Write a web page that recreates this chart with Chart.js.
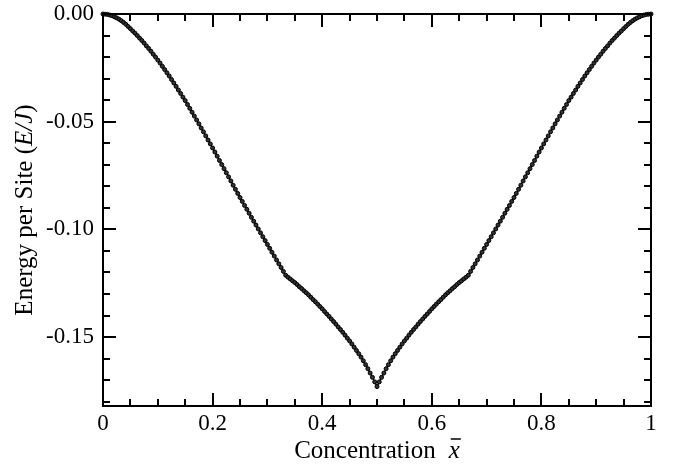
<!DOCTYPE html>
<html>
<head>
<meta charset="utf-8">
<script src="https://cdn.jsdelivr.net/npm/chart.js@4.4.0/dist/chart.umd.min.js"></script>
<style>
  html, body { margin: 0; padding: 0; background: #fff; }
  #wrap { width: 673px; height: 466px; }
</style>
</head>
<body>
<div id="wrap"><canvas id="chart-canvas" width="673" height="466"></canvas></div>
<script>
//////////////////////////////////////////////////
/////   Ground-state energy vs concentration  ////
//////////////////////////////////////////////////

// concentration grid: 0 .. 1 in steps of 1/240
var nSteps = 240;

// energy per site (E/J), one value per grid point
var energy = [
    0.0000, -0.0001, -0.0002, -0.0005, -0.0008, -0.0013, -0.0018, -0.0024, -0.0031, -0.0039,
    -0.0048, -0.0058, -0.0068, -0.0079, -0.0089, -0.0100, -0.0112, -0.0123, -0.0135, -0.0148,
    -0.0160, -0.0173, -0.0187, -0.0200, -0.0214, -0.0228, -0.0243, -0.0258, -0.0273, -0.0288,
    -0.0304, -0.0320, -0.0336, -0.0353, -0.0369, -0.0386, -0.0402, -0.0420, -0.0438, -0.0456,
    -0.0474, -0.0492, -0.0510, -0.0529, -0.0547, -0.0566, -0.0585, -0.0603, -0.0622, -0.0641,
    -0.0660, -0.0680, -0.0699, -0.0718, -0.0737, -0.0756, -0.0775, -0.0795, -0.0814, -0.0833,
    -0.0852, -0.0870, -0.0889, -0.0907, -0.0925, -0.0944, -0.0962, -0.0980, -0.0998, -0.1016,
    -0.1034, -0.1052, -0.1070, -0.1088, -0.1106, -0.1124, -0.1142, -0.1160, -0.1177, -0.1195,
    -0.1213, -0.1222, -0.1230, -0.1239, -0.1247, -0.1256, -0.1266, -0.1275, -0.1285, -0.1294,
    -0.1304, -0.1315, -0.1326, -0.1336, -0.1347, -0.1358, -0.1369, -0.1381, -0.1393, -0.1404,
    -0.1416, -0.1428, -0.1440, -0.1453, -0.1465, -0.1478, -0.1491, -0.1505, -0.1518, -0.1532,
    -0.1547, -0.1562, -0.1577, -0.1593, -0.1610, -0.1628, -0.1647, -0.1667, -0.1687, -0.1708,
    -0.1730,
    -0.1708, -0.1687, -0.1667, -0.1647, -0.1628, -0.1610, -0.1593, -0.1577, -0.1562, -0.1547,
    -0.1532, -0.1518, -0.1505, -0.1491, -0.1478, -0.1465, -0.1453, -0.1440, -0.1428, -0.1416,
    -0.1404, -0.1393, -0.1381, -0.1369, -0.1358, -0.1347, -0.1336, -0.1326, -0.1315, -0.1304,
    -0.1294, -0.1285, -0.1275, -0.1266, -0.1256, -0.1247, -0.1239, -0.1230, -0.1222, -0.1213,
    -0.1195, -0.1177, -0.1160, -0.1142, -0.1124, -0.1106, -0.1088, -0.1070, -0.1052, -0.1034,
    -0.1016, -0.0998, -0.0980, -0.0962, -0.0944, -0.0925, -0.0907, -0.0889, -0.0870, -0.0852,
    -0.0833, -0.0814, -0.0795, -0.0775, -0.0756, -0.0737, -0.0718, -0.0699, -0.0680, -0.0660,
    -0.0641, -0.0622, -0.0603, -0.0585, -0.0566, -0.0547, -0.0529, -0.0510, -0.0492, -0.0474,
    -0.0456, -0.0438, -0.0420, -0.0402, -0.0386, -0.0369, -0.0353, -0.0336, -0.0320, -0.0304,
    -0.0288, -0.0273, -0.0258, -0.0243, -0.0228, -0.0214, -0.0200, -0.0187, -0.0173, -0.0160,
    -0.0148, -0.0135, -0.0123, -0.0112, -0.0100, -0.0089, -0.0079, -0.0068, -0.0058, -0.0048,
    -0.0039, -0.0031, -0.0024, -0.0018, -0.0013, -0.0008, -0.0005, -0.0002, -0.0001, 0.0000
];

var xTicks = [0, 0.2, 0.4, 0.6, 0.8, 1];
var xTickLabels = ["0", "0.2", "0.4", "0.6", "0.8", "1"];
var yTicks = [0, -0.05, -0.10, -0.15];
var yTickLabels = ["0.00", "-0.05", "-0.10", "-0.15"];

var points = energy.map(function (e, i) {
    return { x: i / nSteps, y: e };
});

var SERIF = '"Liberation Serif", "Times New Roman", serif';

// boxed frame with inward major/minor ticks on all four sides, plus axis titles
var framePlugin = {
    id: 'framePlugin',
    afterDatasetsDraw: function (chart) {
        var ctx = chart.ctx, a = chart.chartArea;
        var xs = chart.scales.x, ys = chart.scales.y;
        ctx.save();
        ctx.strokeStyle = '#000';
        ctx.lineWidth = 2;
        ctx.strokeRect(a.left, a.top, a.right - a.left, a.bottom - a.top);

        ctx.beginPath();
        for (var i = 0; i <= 20; i++) {
            var len = (i % 4 === 0) ? 13 : 7;
            var px = Math.round(xs.getPixelForValue(i * 0.05));
            ctx.moveTo(px, a.bottom); ctx.lineTo(px, a.bottom - len);
            ctx.moveTo(px, a.top); ctx.lineTo(px, a.top + len);
        }
        for (var j = 0; j <= 18; j++) {
            var len2 = (j % 5 === 0) ? 13 : 7;
            var py = Math.round(ys.getPixelForValue(-j * 0.01));
            ctx.moveTo(a.left, py); ctx.lineTo(a.left + len2, py);
            ctx.moveTo(a.right, py); ctx.lineTo(a.right - len2, py);
        }
        ctx.stroke();
        ctx.restore();
    },
    afterDraw: function (chart) {
        var ctx = chart.ctx, a = chart.chartArea;
        ctx.save();
        ctx.fillStyle = '#000';
        ctx.strokeStyle = '#000';
        ctx.textBaseline = 'alphabetic';
        ctx.textAlign = 'left';

        // x title: "Concentration" + italic x with a bar over it
        var fontN = '25px ' + SERIF, fontI = 'italic 25px ' + SERIF;
        ctx.font = fontN;
        var w1 = ctx.measureText('Concentration').width;
        ctx.font = fontI;
        var wx = ctx.measureText('x').width;
        var gap = 13;
        var x0 = (a.left + a.right) / 2 - (w1 + gap + wx) / 2;
        var base = chart.height - 8;
        ctx.font = fontN;
        ctx.fillText('Concentration', x0, base);
        ctx.font = fontI;
        ctx.fillText('x', x0 + w1 + gap, base);
        ctx.lineWidth = 1.5;
        ctx.beginPath();
        ctx.moveTo(x0 + w1 + gap + 2, base - 19);
        ctx.lineTo(x0 + w1 + gap + wx + 1, base - 19);
        ctx.stroke();

        // y title, rotated: "Energy per Site (E/J)"
        ctx.translate(32, (a.top + a.bottom) / 2);
        ctx.rotate(-Math.PI / 2);
        var parts = [
            ['Energy per Site (', fontN],
            ['E/J', fontI],
            [')', fontN]
        ];
        var total = 0;
        parts.forEach(function (p) { ctx.font = p[1]; total += ctx.measureText(p[0]).width; });
        var cx = -total / 2;
        parts.forEach(function (p) {
            ctx.font = p[1];
            ctx.fillText(p[0], cx, 0);
            cx += ctx.measureText(p[0]).width;
        });
        ctx.restore();
    }
};

var ctx = document.getElementById('chart-canvas').getContext('2d');
var myChart = new Chart(ctx, {
    type: 'line',
    data: {
        datasets: [
            {
                label: 'E',
                data: points,
                showLine: true,
                borderColor: '#000',
                borderWidth: 1.5,
                pointRadius: 2,
                pointBorderWidth: 1,
                pointBorderColor: '#000',
                pointBackgroundColor: '#333',
                tension: 0,
                clip: false
            }
        ]
    },
    options: {
        responsive: false,
        animation: false,
        layout: { padding: { top: 14, right: 22, left: 0, bottom: 0 } },
        plugins: {
            legend: { display: false },
            tooltip: { enabled: false }
        },
        scales: {
            x: {
                type: 'linear',
                min: 0,
                max: 1,
                grid: { display: false, drawTicks: false },
                border: { display: false },
                afterBuildTicks: function (scale) {
                    scale.ticks = xTicks.map(function (v) { return { value: v }; });
                },
                afterFit: function (scale) {
                    scale.height = 60;
                    scale.paddingLeft = 0;
                    scale.paddingRight = 0;
                },
                ticks: {
                    color: '#000',
                    padding: 4,
                    maxRotation: 0,
                    font: { family: SERIF, size: 23 },
                    callback: function (v, i) { return xTickLabels[i]; }
                }
            },
            y: {
                min: -0.182,
                max: 0,
                grid: { display: false, drawTicks: false },
                border: { display: false },
                afterBuildTicks: function (scale) {
                    scale.ticks = yTicks.map(function (v) { return { value: v }; });
                },
                afterFit: function (scale) {
                    scale.width = 103;
                    scale.paddingTop = 0;
                    scale.paddingBottom = 0;
                },
                ticks: {
                    color: '#000',
                    padding: 9,
                    font: { family: SERIF, size: 23 },
                    callback: function (v, i) { return yTickLabels[i]; }
                }
            }
        }
    },
    plugins: [framePlugin]
});
</script>
</body>
</html>
